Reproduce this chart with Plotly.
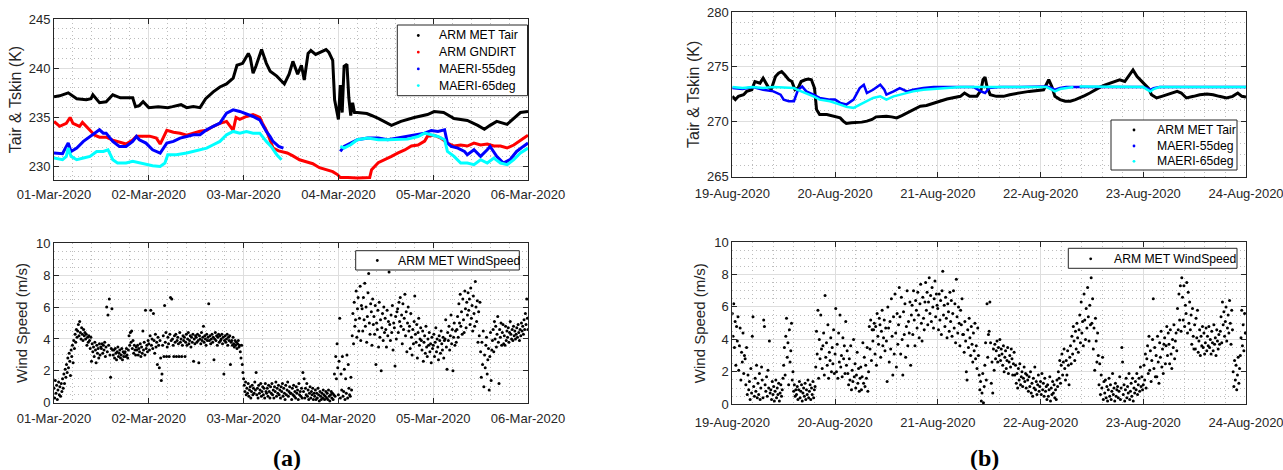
import pandas as pd
import plotly.graph_objects as go

# ---------------- DATA ----------------
# Panel (a): 01-Mar-2020 .. 06-Mar-2020, times are day offsets from 01-Mar-2020 00:00
a_tair_d = [0, 0.06, 0.15, 0.24, 0.34, 0.39, 0.41, 0.48, 0.55, 0.62, 0.7, 0.78, 0.83, 0.86, 0.9, 0.94, 1.0, 1.1, 1.2, 1.25,
            1.34, 1.4, 1.47, 1.54, 1.57, 1.6, 1.68, 1.75, 1.82, 1.89, 1.93, 1.99, 2.05, 2.07, 2.10, 2.13, 2.19, 2.24, 2.28, 2.35,
            2.43, 2.48, 2.52, 2.57, 2.61, 2.64, 2.68, 2.71, 2.76, 2.8, 2.87, 2.9, 2.94, 2.96, 2.98, 3.0, 3.02, 3.04, 3.06, 3.09,
            3.11, 3.13, 3.15, 3.17, 3.2, 3.3, 3.35, 3.42, 3.56, 3.66, 3.8, 3.94, 4.01, 4.11, 4.22, 4.36, 4.47, 4.54, 4.6, 4.67,
            4.78, 4.85, 4.92, 5.0]
a_tair = [237.1, 237.2, 237.5, 236.9, 236.8, 236.9, 237.3, 236.5, 236.6, 237.3, 237.0, 237.0, 237.0, 236.1, 236.2, 236.6,
          236.0, 236.1, 236.0, 236.1, 236.3, 236.0, 236.1, 236.0, 236.5, 236.9, 237.6, 238.1, 238.4, 239.0, 240.3, 240.5,
          241.5, 241.1, 239.5, 240.2, 241.9, 240.5, 239.7, 239.2, 238.4, 239.4, 240.7, 239.4, 240.3, 238.8, 241.5, 241.8,
          241.4, 241.6, 241.9, 241.6, 240.8, 236.8, 235.8, 234.8, 238.3, 235.5, 240.2, 240.4, 237.0, 235.2, 236.5, 235.5,
          235.5, 235.4, 235.2, 234.9, 234.2, 234.6, 235.0, 235.3, 235.6, 235.5, 234.9, 234.7, 234.2, 233.8, 234.2, 234.6,
          234.3, 234.9, 235.5, 235.6]

a_gnd_d = [0, 0.06, 0.13, 0.17, 0.2, 0.27, 0.3, 0.34, 0.37, 0.43, 0.48, 0.55, 0.62, 0.69, 0.76, 0.83, 0.87, 0.94, 1.01, 1.08,
           1.12, 1.19, 1.26, 1.33, 1.40, 1.47, 1.54, 1.61, 1.68, 1.75, 1.82, 1.89, 1.92, 1.96, 2.03, 2.10, 2.17, 2.2, 2.24, 2.28,
           2.31, 2.37, 2.46, 2.52, 2.59, 2.66, 2.73, 2.8, 2.87, 2.94, 2.99, 3.02, 3.1, 3.2, 3.33, 3.35, 3.42, 3.49, 3.56, 3.63,
           3.7, 3.77, 3.84, 3.91, 3.94, 4.01, 4.08, 4.15, 4.22, 4.29, 4.36, 4.43, 4.50, 4.57, 4.64, 4.71, 4.78, 4.85, 4.92, 5.0]
a_gnd = [234.6, 234.1, 234.4, 235.0, 234.4, 234.1, 234.5, 234.1, 233.9, 233.2, 233.0, 233.0, 232.7, 232.5, 232.3, 232.7,
         233.1, 233.1, 233.1, 232.9, 232.3, 233.7, 233.5, 233.4, 233.2, 233.4, 233.6, 233.7, 234.1, 234.4, 234.6, 233.7,
         235.0, 234.8, 235.1, 235.3, 235.0, 234.4, 233.7, 232.7, 231.9, 231.6, 231.4, 231.1, 230.7, 230.5, 230.3, 229.9,
         229.7, 229.5, 229.2, 228.9, 228.9, 228.85, 228.9, 229.7, 230.4, 230.7, 231.05, 231.4, 231.7, 232.1, 232.2, 232.6,
         233.1, 233.2, 232.9, 232.4, 232.1, 232.2, 232.1, 232.4, 232.2, 232.3, 232.1, 232.1, 231.9, 232.2, 232.7, 233.2]

a_m55_d = [0, 0.09, 0.12, 0.15, 0.18, 0.24, 0.31, 0.38, 0.45, 0.48, 0.52, 0.55, 0.62, 0.69, 0.76, 0.83, 0.87, 0.9, 0.97, 1.04,
           1.12, 1.19, 1.26, 1.33, 1.40, 1.47, 1.54, 1.61, 1.68, 1.75, 1.82, 1.89, 1.96, 2.03, 2.10, 2.17, 2.2, 2.24, 2.28, 2.31,
           2.37, 2.42, 2.7, 3.02, 3.06, 3.13, 3.2, 3.31, 3.42, 3.52, 3.63, 3.73, 3.84, 3.91, 3.98, 4.05, 4.12, 4.15, 4.19, 4.26,
           4.33, 4.36, 4.43, 4.5, 4.57, 4.6, 4.67, 4.74, 4.81, 4.88, 4.95, 5.0]
a_m55 = [231.39, 231.32, 231.89, 232.40, 231.55, 231.89, 232.57, 233.07, 233.58, 233.75, 233.41, 233.41, 232.57, 232.06,
         232.06, 232.57, 233.07, 232.74, 232.40, 231.72, 231.39, 232.40, 232.57, 232.91, 233.07, 233.24, 233.24, 233.75,
         234.09, 234.43, 235.44, 235.78, 235.61, 235.37, 235.10, 234.76, 234.26, 233.58, 233.07, 232.57, 232.06, 231.89,
         None,
         231.55, 232.06, 232.40, 232.74, 232.91, 232.91, 232.74, 232.91, 233.07, 233.24, 233.41, 233.68, 233.58, 233.75,
         232.40, 232.06, 231.89, 231.55, 231.22, 231.72, 231.05, 231.72, 232.06, 231.05, 230.37, 230.71, 231.55, 232.06,
         232.40]

a_m65_d = [0, 0.09, 0.13, 0.15, 0.18, 0.24, 0.31, 0.38, 0.45, 0.52, 0.57, 0.62, 0.67, 0.76, 0.83, 0.9, 0.97, 1.04, 1.12, 1.17,
           1.2, 1.29, 1.40, 1.47, 1.54, 1.61, 1.68, 1.75, 1.82, 1.89, 1.96, 2.03, 2.10, 2.17, 2.24, 2.29, 2.35, 2.4, 2.7,
           3.02, 3.06, 3.13, 3.2, 3.31, 3.42, 3.52, 3.63, 3.73, 3.84, 3.91, 3.98, 4.05, 4.12, 4.15, 4.22, 4.29, 4.36, 4.43, 4.5,
           4.57, 4.64, 4.71, 4.78, 4.85, 4.92, 5.0]
a_m65 = [230.88, 230.71, 231.05, 231.89, 231.05, 230.71, 230.88, 231.05, 231.55, 231.55, 231.72, 230.71, 230.37, 230.37,
         230.54, 230.37, 230.20, 230.10, 230.03, 230.37, 231.22, 231.22, 231.39, 231.55, 231.72, 231.89, 232.23, 232.57,
         233.24, 233.58, 233.41, 233.58, 233.41, 233.41, 232.57, 232.06, 231.22, 230.71,
         None,
         232.06, 231.89, 232.23, 232.74, 232.91, 232.74, 232.74, 232.74, 232.80, 233.07, 233.41, 233.24, 233.07, 232.74,
         231.55, 231.05, 230.37, 230.37, 230.20, 230.71, 230.37, 230.88, 230.37, 230.20, 230.71, 231.39, 231.89]

# wind speed (m/s), one value per 10 min from 01-Mar-2020 00:00 (18 values = 3 h per row)
a_wind = [
    0.9, 0.3, 1.4, 0.6, 1.1, 0.2, 0.8, 1.3, 0.5, 1.0, 0.4, 1.2, 0.7, 1.5, 0.9, 1.8, 1.2, 2.1,
    1.6, 2.4, 1.9, 2.8, 2.2, 3.1, 2.6, 1.7, 3.3, 2.9, 3.6, 2.5, 3.9, 3.4, 4.3, 3.8, 4.6, 4.1,
    4.5, 4.9, 4.2, 5.1, 4.4, 4.0, 4.7, 4.3, 3.9, 4.6, 4.2, 4.4, 4.0, 4.3, 3.6, 4.1, 3.8, 4.2,
    3.9, 3.4, 4.1, 2.6, 3.7, 3.2, 3.5, 2.9, 3.8, 3.3, 2.5, 3.6, 3.1, 3.4, 2.8, 3.7, 3.0, 3.5,
    3.4, 3.7, 3.1, 3.6, 3.3, 3.8, 2.9, 3.5, 6.0, 3.2, 5.5, 3.6, 6.5, 3.0, 1.6, 3.4, 5.9, 3.3,
    3.0, 3.3, 2.8, 3.4, 3.1, 2.7, 3.2, 3.5, 2.9, 3.1, 3.3, 2.8, 3.0, 3.4, 2.7, 3.2, 2.9, 3.1,
    3.2, 2.9, 3.4, 3.0, 2.8, 3.3, 4.2, 3.6, 4.4, 3.8, 4.5, 3.4, 3.9, 3.1, 3.6, 3.3, 3.0, 3.5,
    3.3, 3.6, 3.0, 3.4, 3.2, 3.7, 2.9, 3.5, 3.1, 4.5, 3.3, 3.8, 3.0, 5.8, 3.4, 3.6, 3.2, 3.9,
    3.7, 3.3, 4.2, 5.8, 3.6, 4.0, 3.4, 5.6, 3.9, 3.1, 4.3, 3.5, 3.8, 2.4, 4.1, 3.6, 2.2, 3.9,
    2.8, 1.4, 1.8, 3.6, 4.2, 2.9, 6.1, 3.8, 4.4, 2.9, 3.5, 4.1, 3.7, 2.9, 4.3, 6.6, 3.9, 6.5,
    4.0, 3.6, 2.9, 4.2, 3.8, 4.3, 2.9, 3.9, 4.1, 3.7, 2.9, 4.4, 3.8, 4.0, 2.9, 3.6, 4.2, 3.9,
    4.1, 2.9, 3.8, 4.3, 3.6, 4.0, 4.4, 3.7, 3.9, 4.2, 3.5, 4.1, 3.8, 4.3, 2.6, 4.0, 3.7, 4.2,
    4.1, 3.8, 4.3, 3.9, 2.5, 4.2, 4.0, 3.7, 4.4, 3.9, 4.1, 4.8, 3.8, 4.2, 4.0, 3.6, 4.3, 3.9,
    4.1, 6.2, 3.9, 4.2, 3.7, 4.0, 4.3, 3.8, 4.1, 2.7, 4.0, 4.4, 3.9, 4.2, 3.6, 4.1, 4.3, 3.8,
    4.2, 3.9, 4.0, 4.3, 3.7, 4.1, 1.8, 3.9, 4.2, 3.8, 4.0, 4.3, 3.6, 4.1, 3.9, 4.2, 2.4, 3.8,
    3.9, 3.6, 4.1, 3.7, 3.5, 3.9, 3.6, 3.8, 3.4, 3.7, 3.9, 3.5, 3.6, 3.2, 2.8, 3.6, 2.4, 1.9,
    1.5, 1.1, 0.7, 1.3, 0.5, 0.9, 0.6, 1.2, 0.4, 0.8, 1.0, 0.3, 0.7, 1.1, 0.5, 0.9, 0.6, 1.3,
    0.8, 1.9, 0.5, 0.9, 0.3, 1.1, 0.6, 0.8, 1.2, 0.4, 0.7, 1.0, 0.5, 0.9, 0.3, 1.2, 0.7, 0.6,
    0.9, 0.4, 1.1, 0.7, 0.3, 1.0, 0.6, 1.2, 0.5, 0.8, 0.3, 1.0, 0.7, 1.3, 0.4, 0.9, 0.6, 1.1,
    0.5, 0.8, 0.3, 1.0, 0.7, 1.2, 0.4, 0.9, 0.6, 0.2, 1.1, 0.5, 0.8, 1.3, 0.4, 0.7, 1.0, 0.6,
    0.6, 0.2, 0.9, 0.5, 1.1, 0.4, 0.7, 0.3, 1.0, 0.6, 0.8, 0.2, 1.2, 0.5, 0.7, 0.4, 0.9, 0.3,
    1.9, 0.7, 1.5, 0.3, 0.9, 0.5, 1.2, 0.4, 0.8, 0.2, 0.6, 1.0, 0.3, 0.7, 0.5, 0.9, 0.2, 0.6,
    0.4, 0.8, 0.2, 0.6, 0.3, 0.9, 0.5, 0.1, 0.7, 0.4, 0.2, 0.6, 0.3, 0.8, 0.5, 0.2, 0.4, 0.7,
    0.3, 0.6, 0.2, 0.8, 0.4, 0.1, 0.5, 0.7, 0.3, 0.6, 0.2, 0.5, 1.8, 0.4, 2.9, 1.5, 3.7, 2.2,
    0.5, 2.6, 5.3, 0.3, 1.8, 0.8, 2.9, 0.4, 0.7, 2.1, 0.2, 1.5, 0.6, 3.0, 0.3, 2.4, 0.9, 0.5,
    0.4, 1.6, 0.8, 4.2, 5.6, 3.7, 6.3, 4.8, 5.2, 7.0, 4.1, 5.9, 6.6, 4.5, 5.3, 7.3, 3.9, 6.1,
    5.9, 4.5, 6.6, 5.2, 7.5, 4.8, 6.0, 3.8, 5.4, 6.9, 8.1, 5.0, 4.3, 6.2, 5.7, 3.6, 6.5, 4.9,
    5.4, 4.3, 6.1, 2.4, 5.0, 4.6, 5.8, 3.5, 6.3, 4.1, 5.2, 2.0, 4.7, 5.6, 3.9, 6.0, 4.4, 5.3,
    4.6, 3.5, 5.8, 4.2, 5.1, 8.2, 4.9, 3.9, 5.5, 4.4, 6.1, 3.3, 5.0, 4.7, 2.3, 5.4, 4.0, 5.7,
    5.9, 4.4, 6.3, 5.1, 6.6, 4.8, 5.5, 3.7, 6.2, 4.6, 5.3, 6.8, 4.2, 5.7, 3.2, 5.0, 6.0, 4.5,
    4.8, 3.4, 5.6, 4.1, 3.0, 4.6, 3.7, 5.1, 6.7, 4.3, 3.8, 4.9, 2.8, 4.4, 5.3, 3.6, 4.0, 4.7,
    3.9, 3.3, 4.5, 2.6, 3.8, 4.2, 3.1, 4.8, 3.5, 2.9, 4.0, 3.6, 4.4, 3.2, 3.7, 2.5, 4.1, 3.4,
    3.6, 4.3, 2.9, 3.8, 4.7, 3.2, 4.0, 3.5, 2.7, 4.2, 3.9, 3.1, 4.5, 3.7, 3.3, 4.1, 2.8, 3.9,
    4.0, 5.2, 3.5, 2.1, 4.4, 3.9, 4.8, 3.3, 4.2, 5.5, 3.7, 4.6, 2.0, 4.1, 5.0, 3.6, 4.5, 3.8,
    4.6, 5.4, 4.1, 6.2, 5.0, 6.8, 4.8, 5.7, 4.3, 6.5, 5.2, 4.4, 7.0, 5.9, 4.7, 6.3, 5.5, 6.9,
    5.8, 6.5, 4.9, 7.2, 5.3, 6.1, 4.5, 6.7, 5.6, 4.8, 7.6, 6.0, 5.1, 6.4, 3.8, 5.7, 4.2, 6.3,
    3.2, 1.6, 3.8, 2.4, 4.5, 1.0, 3.0, 2.2, 3.6, 4.1, 1.8, 2.7, 3.4, 0.8, 2.9, 4.4, 1.4, 3.3,
    3.9, 4.6, 3.2, 5.1, 4.0, 4.8, 3.5, 4.3, 5.4, 3.8, 1.2, 4.6, 4.1, 5.0, 3.6, 4.4, 4.9, 3.7,
    4.2, 3.6, 4.8, 3.9, 4.5, 4.1, 4.7, 3.8, 4.4, 5.1, 4.3, 4.0, 4.6, 3.9, 4.8, 4.2, 4.5, 4.0,
    4.3, 4.7, 4.1, 4.9, 4.4, 3.9, 4.6, 4.2, 5.0, 4.5, 4.8, 4.3, 5.2, 4.6, 5.6, 4.9, 6.5, 5.3,
    4.6]

# Panel (b): 19-Aug-2020 .. 24-Aug-2020, day offsets from 19-Aug-2020 00:00
b_tair_d = [0, 0.03, 0.06, 0.11, 0.14, 0.19, 0.22, 0.27, 0.3, 0.35, 0.38, 0.42, 0.45, 0.48, 0.51, 0.55, 0.58, 0.61, 0.64, 0.67,
            0.71, 0.74, 0.77, 0.80, 0.82, 0.85, 0.92, 0.98, 1.05, 1.08, 1.11, 1.16, 1.21, 1.26, 1.31, 1.36, 1.4, 1.45, 1.5, 1.55,
            1.6, 1.65, 1.70, 1.76, 1.83, 1.89, 1.96, 2.02, 2.09, 2.15, 2.22, 2.26, 2.31, 2.38, 2.42, 2.44, 2.46, 2.48, 2.51, 2.57,
            2.64, 2.7, 2.77, 2.83, 2.89, 2.96, 3.03, 3.08, 3.11, 3.14, 3.19, 3.24, 3.29, 3.34, 3.38, 3.43, 3.48, 3.53, 3.58, 3.63,
            3.68, 3.72, 3.77, 3.82, 3.87, 3.90, 3.94, 3.97, 4.0, 4.05, 4.08, 4.13, 4.18, 4.23, 4.28, 4.33, 4.37, 4.42, 4.49, 4.55,
            4.62, 4.68, 4.74, 4.81, 4.87, 4.92, 4.96, 5.0]
b_tair = [272.32, 272.02, 272.32, 272.47, 272.77, 272.92, 273.67, 273.52, 273.98, 273.16, 272.98, 274.13, 274.43, 274.58,
          274.28, 273.83, 273.67, 272.92, 273.07, 273.67, 273.83, 273.89, 273.83, 273.07, 271.11, 270.66, 270.66, 270.51,
          270.36, 270.06, 269.85, 269.91, 269.91, 269.97, 270.06, 270.21, 270.45, 270.51, 270.51, 270.45, 270.36, 270.57,
          270.81, 271.11, 271.42, 271.48, 271.66, 271.87, 272.08, 272.17, 272.32, 272.62, 272.32, 272.32, 272.86, 273.83,
          274.07, 273.16, 272.47, 272.32, 272.32, 272.47, 272.62, 272.68, 272.77, 272.86, 272.92, 273.83, 273.22, 272.32,
          272.02, 271.87, 271.87, 272.02, 272.17, 272.38, 272.62, 272.92, 273.16, 273.37, 273.52, 273.67, 273.83, 273.67,
          274.28, 274.73, 274.13, 273.83, 273.52, 273.07, 272.47, 272.17, 272.32, 272.47, 272.68, 272.77, 272.62, 272.17,
          272.32, 272.47, 272.53, 272.47, 272.32, 272.17, 272.32, 272.62, 272.32, 272.26]

b_m55_d = [0, 0.1, 0.2, 0.3, 0.4, 0.47, 0.5, 0.55, 0.6, 0.64, 0.68, 0.72, 0.79, 0.85, 0.95, 1.0, 1.05, 1.11, 1.18, 1.24, 1.28,
           1.31, 1.37, 1.44, 1.48, 1.5, 1.57, 1.63, 1.7, 1.76, 1.86, 1.96, 2.09, 2.22, 2.35, 2.42, 2.46, 2.5, 2.6, 2.8, 3.0,
           3.06, 3.11, 3.14, 3.19, 3.25, 3.32, 3.38, 3.6, 3.8, 4.0, 4.03, 4.07, 4.1, 4.16, 4.4, 4.6, 4.8, 5.0]
b_m55 = [273.07, 272.98, 273.16, 272.92, 272.77, 272.47, 272.02, 271.87, 271.87, 272.92, 273.22, 272.77, 272.47, 272.17,
         272.02, 272.02, 271.72, 271.57, 272.02, 273.07, 273.37, 272.62, 272.92, 273.37, 272.92, 272.47, 272.77, 273.07,
         272.77, 272.92, 273.07, 273.16, 273.16, 273.16, 273.16, 272.77, 272.62, 273.07, 273.16, 273.16, 273.16, 273.22,
         273.07, 272.92, 273.07, 273.16, 273.16, 273.16, 273.16, 273.16, 273.16, 273.07, 272.92, 273.07, 273.16, 273.16,
         273.16, 273.16, 273.16]

b_m65_d = [0, 0.1, 0.2, 0.3, 0.4, 0.5, 0.6, 0.63, 0.72, 0.79, 0.85, 0.95, 1.05, 1.11, 1.18, 1.24, 1.31, 1.37, 1.44, 1.5,
           1.57, 1.63, 1.7, 1.76, 1.86, 1.96, 2.09, 2.22, 2.35, 2.48, 2.6, 2.8, 3.0, 3.06, 3.11, 3.14, 3.19, 3.25, 3.32,
           3.35, 3.38, 3.6, 3.8, 4.0, 4.03, 4.07, 4.1, 4.16, 4.4, 4.6, 4.8, 5.0]
b_m65 = [273.16, 273.07, 273.16, 273.07, 273.16, 273.13, 273.07, 272.92, 272.62, 272.32, 272.02, 271.87, 271.57, 271.36,
         271.27, 271.57, 271.87, 272.17, 272.32, 272.02, 272.32, 272.47, 272.62, 272.77, 272.92, 272.98, 273.07, 273.16,
         273.16, 273.16, 273.16, 273.16, 273.16, 273.16, 272.92, 272.77, 272.98, 273.07, 273.16, None, 273.22, 273.22,
         273.19, 273.16, 272.98, 272.77, 272.98, 273.16, 273.16, 273.13, 273.16, 273.16]

# wind speed (m/s), one value per 10 min from 19-Aug-2020 00:00 (18 values = 3 h per row)
b_wind = [
    5.6, 4.2, 6.2, 3.5, 5.1, 2.4, 4.8, 3.9, 5.4, 2.1, 3.6, 4.7, 1.5, 3.2, 2.6, 4.4, 1.9, 3.0,
    2.8, 1.2, 3.5, 0.6, 1.8, 0.9, 1.4, 0.3, 2.2, 0.7, 4.2, 5.4, 1.1, 0.5, 1.6, 0.8, 2.4, 0.4,
    1.3, 0.6, 1.9, 0.3, 1.0, 2.3, 1.5, 0.4, 5.2, 4.8, 1.2, 0.8, 1.7, 0.5, 2.1, 1.0, 3.9, 0.7,
    0.9, 0.3, 1.4, 0.6, 1.1, 0.2, 0.8, 1.5, 0.4, 1.0, 0.6, 1.3, 0.2, 0.7, 1.2, 0.5, 0.9, 1.6,
    2.4, 3.5, 1.8, 4.2, 5.3, 2.9, 3.8, 1.2, 4.6, 2.6, 3.3, 5.0, 1.5, 2.0, 0.8, 1.2, 0.5, 0.9,
    0.6, 1.1, 0.3, 0.9, 1.4, 0.4, 0.8, 1.2, 0.2, 0.7, 1.0, 0.5, 1.3, 0.3, 0.9, 0.6, 1.5, 0.4,
    0.8, 1.2, 0.3, 1.0, 0.6, 1.4, 0.4, 0.9, 1.1, 2.3, 4.5, 3.1, 5.8, 1.6, 4.0, 2.8, 5.5, 3.4,
    2.2, 3.6, 4.4, 1.8, 6.7, 2.9, 3.8, 2.4, 4.9, 1.6, 3.2, 2.7, 4.1, 2.0, 3.5, 2.5, 4.6, 1.9,
    3.1, 5.9, 2.0, 3.7, 1.6, 4.4, 2.6, 5.5, 2.3, 3.0, 1.7, 4.1, 2.8, 3.6, 1.9, 5.1, 2.4, 3.3,
    1.9, 1.2, 2.8, 1.5, 3.6, 0.9, 2.1, 1.4, 4.0, 1.7, 2.5, 1.0, 1.8, 3.2, 1.3, 2.2, 0.8, 1.6,
    2.3, 0.9, 1.7, 3.8, 1.3, 2.9, 1.1, 2.4, 1.6, 3.5, 0.8, 2.0, 4.8, 3.4, 5.2, 2.7, 4.6, 3.9,
    4.6, 5.0, 3.1, 4.8, 2.4, 5.6, 4.2, 3.7, 5.3, 4.9, 2.9, 4.5, 5.8, 3.6, 4.1, 5.2, 3.3, 4.7,
    3.9, 1.4, 6.0, 4.7, 2.6, 5.1, 3.4, 6.5, 4.2, 1.8, 5.4, 3.1, 6.8, 4.4, 2.3, 5.6, 3.7, 4.9,
    7.2, 5.4, 3.1, 6.6, 4.0, 1.8, 5.7, 4.3, 6.2, 2.9, 4.8, 7.0, 3.6, 5.1, 4.4, 6.3, 2.4, 5.5,
    6.1, 4.3, 7.0, 5.2, 3.6, 6.4, 5.8, 4.7, 6.9, 5.5, 4.1, 6.2, 7.4, 5.0, 3.9, 6.6, 5.3, 4.6,
    6.3, 7.5, 5.8, 6.9, 4.9, 6.3, 7.8, 5.6, 6.7, 5.1, 7.2, 6.0, 4.7, 6.5, 7.6, 5.4, 6.8, 6.1,
    5.9, 4.6, 6.8, 5.2, 6.4, 4.3, 7.0, 8.2, 5.5, 6.1, 4.8, 6.6, 5.3, 4.1, 6.2, 5.7, 4.5, 6.9,
    5.1, 6.4, 4.2, 5.6, 7.0, 4.7, 6.2, 3.8, 7.7, 5.4, 4.4, 6.0, 5.0, 3.6, 5.8, 4.9, 6.5, 4.3,
    4.3, 3.2, 5.1, 3.9, 2.0, 1.5, 4.6, 3.5, 5.3, 4.1, 3.0, 4.8, 3.7, 2.6, 4.4, 3.3, 5.0, 2.8,
    3.6, 2.2, 4.7, 3.0, 1.8, 0.9, 1.4, 0.2, 0.7, 1.9, 0.1, 1.1, 2.4, 3.8, 1.5, 6.2, 2.9, 4.3,
    4.5, 6.3, 3.8, 1.3, 2.6, 0.7, 3.4, 2.1, 3.7, 2.8, 3.3, 3.9, 2.6, 3.5, 3.0, 4.0, 2.7, 3.4,
    3.1, 2.4, 3.6, 2.0, 2.9, 3.3, 2.2, 2.7, 3.5, 1.9, 2.6, 3.0, 2.3, 3.4, 2.8, 1.8, 2.5, 3.2,
    1.8, 2.4, 1.3, 1.9, 1.0, 2.2, 1.5, 2.5, 1.2, 1.7, 2.0, 1.1, 1.6, 2.3, 1.4, 1.9, 1.0, 1.8,
    1.5, 0.8, 1.7, 1.1, 2.0, 0.7, 1.3, 0.5, 1.6, 1.0, 2.3, 0.9, 1.4, 0.6, 1.2, 1.8, 0.8, 1.1,
    1.4, 0.6, 1.9, 0.9, 1.3, 0.5, 1.6, 0.8, 1.1, 0.3, 1.2, 0.5, 0.9, 1.7, 0.2, 1.0, 0.6, 1.4,
    0.7, 1.2, 0.4, 0.9, 0.3, 1.5, 1.1, 2.0, 1.6, 2.7, 1.3, 2.4, 3.1, 1.8, 2.6, 3.4, 2.2, 1.5,
    2.7, 1.8, 3.3, 2.4, 1.2, 2.9, 3.6, 2.5, 4.2, 3.1, 4.8, 3.9, 2.7, 4.5, 3.4, 5.0, 4.1, 3.2,
    4.6, 5.5, 3.8, 6.3, 4.4, 5.1, 3.6, 6.8, 5.2, 4.0, 5.9, 4.7, 7.2, 5.4, 3.9, 6.1, 4.9, 7.8,
    5.0, 6.5, 3.4, 4.7, 2.1, 5.3, 3.9, 2.6, 4.4, 3.0, 1.2, 2.5, 0.6, 1.8, 1.0, 2.9, 0.3, 1.4,
    0.7, 1.5, 0.4, 1.1, 0.2, 0.9, 1.6, 0.5, 1.2, 0.3, 0.8, 1.9, 0.6, 1.0, 0.2, 1.3, 0.5, 0.9,
    1.1, 0.4, 0.8, 1.7, 0.3, 1.0, 3.5, 2.6, 0.6, 1.2, 0.2, 0.9, 1.6, 0.4, 1.1, 0.7, 1.9, 0.3,
    0.8, 1.3, 0.5, 1.6, 0.2, 1.0, 0.7, 1.4, 0.9, 1.9, 0.6, 1.2, 1.6, 0.8, 2.3, 1.1, 1.7, 0.9,
    1.2, 2.4, 1.5, 3.1, 1.0, 2.8, 3.6, 1.9, 4.2, 2.1, 3.3, 1.4, 2.7, 4.0, 6.5, 2.2, 3.5, 1.7,
    3.0, 1.7, 4.2, 2.6, 1.3, 3.8, 2.9, 4.5, 2.3, 3.4, 1.9, 3.7, 4.1, 2.5, 3.6, 4.8, 3.0, 4.4,
    3.7, 2.5, 4.6, 3.1, 2.2, 4.0, 3.5, 4.9, 2.8, 3.9, 4.4, 3.3, 5.9, 4.6, 6.8, 5.2, 7.3, 4.5,
    7.8, 6.6, 5.2, 7.3, 4.8, 6.1, 5.6, 7.5, 4.4, 6.9, 5.0, 6.3, 4.6, 5.5, 3.7, 5.9, 4.2, 3.4,
    4.9, 3.4, 5.3, 4.1, 5.8, 3.2, 3.9, 4.6, 3.0, 4.2, 3.6, 4.8, 3.5, 4.4, 3.1, 3.8, 4.7, 3.3,
    4.2, 3.6, 4.8, 3.5, 4.0, 3.1, 4.5, 3.8, 3.3, 4.9, 3.7, 4.1, 3.0, 4.6, 3.9, 3.4, 4.3, 3.7,
    4.5, 5.4, 3.8, 6.3, 4.9, 5.7, 4.2, 5.1, 6.0, 3.9, 4.7, 5.5, 4.4, 6.4, 5.0, 3.7, 5.8, 4.6,
    2.0, 1.1, 2.7, 1.5, 2.4, 0.9, 1.8, 2.9, 1.3, 2.2, 3.0, 4.1, 5.8, 3.6, 4.9, 3.3, 5.6, 4.4,
    4.4]

start_a, end_a = "2020-03-01", "2020-03-06"
start_b, end_b = "2020-08-19", "2020-08-24"
wind_step_min = 10

names_a = ["ARM MET Tair", "ARM GNDIRT", "MAERI-55deg", "MAERI-65deg"]
names_b = ["ARM MET Tair", "MAERI-55deg", "MAERI-65deg"]
wind_name = "ARM MET WindSpeed"

# ---------------- STYLE ----------------
W, H = 1283, 470
FONT = "Liberation Sans, Arial, Helvetica, sans-serif"
AX = "#262626"
GRID = "#dedede"
MGRID = "#bdbdbd"
COL = {"ARM MET Tair": "#000000", "ARM GNDIRT": "#ff0000", "MAERI-55deg": "#0000ff", "MAERI-65deg": "#00ffff"}


def px(xp):
    return xp / W


def py(yp):
    return 1 - yp / H


def to_time(start, d):
    base = pd.Timestamp(start)
    return [base + pd.Timedelta(days=v) for v in d]


def wind_times(start, n):
    base = pd.Timestamp(start)
    return [base + pd.Timedelta(minutes=wind_step_min * i) for i in range(n)]


fig = go.Figure()

series_a = [(a_tair_d, a_tair, "ARM MET Tair", 3), (a_gnd_d, a_gnd, "ARM GNDIRT", 3),
            (a_m55_d, a_m55, "MAERI-55deg", 3), (a_m65_d, a_m65, "MAERI-65deg", 3)]
for d, v, nm, w in series_a:
    fig.add_trace(go.Scatter(x=to_time(start_a, d), y=v, mode="lines", name=nm,
                             line=dict(color=COL[nm], width=w), xaxis="x", yaxis="y", showlegend=False))

fig.add_trace(go.Scatter(x=wind_times(start_a, len(a_wind)), y=a_wind, mode="markers", name=wind_name,
                         marker=dict(color="black", size=3), xaxis="x2", yaxis="y2", showlegend=False))

series_b = [(b_tair_d, b_tair, "ARM MET Tair", 3), (b_m55_d, b_m55, "MAERI-55deg", 2.5),
            (b_m65_d, b_m65, "MAERI-65deg", 2.5)]
for d, v, nm, w in series_b:
    fig.add_trace(go.Scatter(x=to_time(start_b, d), y=v, mode="lines", name=nm,
                             line=dict(color=COL[nm], width=w), xaxis="x3", yaxis="y3", showlegend=False))

fig.add_trace(go.Scatter(x=wind_times(start_b, len(b_wind)), y=b_wind, mode="markers", name=wind_name,
                         marker=dict(color="black", size=3), xaxis="x4", yaxis="y4", showlegend=False))


def xax(rng, dom, anchor, standoff):
    return dict(type="date", range=rng, domain=dom, anchor=anchor, tickformat="%d-%b-%Y", dtick=86400000,
                ticks="inside", ticklen=5, tickcolor=AX, showline=True, linecolor=AX, linewidth=1,
                mirror="ticks", showgrid=True, gridcolor=GRID, gridwidth=1, zeroline=False,
                tickfont=dict(family=FONT, size=13, color=AX), automargin=False,
                ticklabelstandoff=standoff, ticklabeloverflow="allow",
                minor=dict(dtick=17280000, showgrid=True, gridcolor=MGRID, griddash="1px,3px", ticks=""))


def yax(rng, dom, anchor, dtick, mdtick, title, tsize, standoff):
    return dict(range=rng, domain=dom, anchor=anchor, dtick=dtick, ticks="inside", ticklen=5, tickcolor=AX,
                showline=True, linecolor=AX, linewidth=1, mirror="ticks", showgrid=True, gridcolor=GRID,
                gridwidth=1, zeroline=False, tickfont=dict(family=FONT, size=13, color=AX), automargin=False,
                title=dict(text=title, font=dict(family=FONT, size=tsize, color=AX), standoff=standoff),
                minor=dict(dtick=mdtick, showgrid=True, gridcolor=MGRID, griddash="1px,3px", ticks=""))


xa_dom = [px(54), px(528)]
xb_dom = [px(732.3), px(1246)]
fig.update_layout(
    width=W, height=H, margin=dict(l=0, r=0, t=0, b=0),
    paper_bgcolor="white", plot_bgcolor="white", showlegend=False,
    xaxis=xax([start_a, end_a], xa_dom, "y", 2),
    yaxis=yax([228.65, 245], [py(180), py(19)], "x", 5, 1, "Tair & Tskin (K)", 16, 3),
    xaxis2=xax([start_a, end_a], xa_dom, "y2", 4),
    yaxis2=yax([0, 10], [py(402.7), py(243.3)], "x2", 2, 0.5, "Wind Speed (m/s)", 15, 4.5),
    xaxis3=xax([start_b, end_b], xb_dom, "y3", 5),
    yaxis3=yax([265, 280], [py(176.7), py(12)], "x3", 5, 1, "Tair & Tskin (K)", 16, 3),
    xaxis4=xax([start_b, end_b], xb_dom, "y4", 6),
    yaxis4=yax([0, 10], [py(404.3), py(242)], "x4", 2, 0.5, "Wind Speed (m/s)", 15, 4.5),
)

# ---------------- legends (drawn as boxes with text) ----------------
shapes = []
annotations = []


def legend_box(x0, x1, y0, y1, mark_x, text_x, entries):
    shapes.append(dict(type="rect", xref="paper", yref="paper", x0=px(x0), x1=px(x1), y0=py(y1), y1=py(y0),
                       line=dict(color=AX, width=1), fillcolor="white", layer="above"))
    for name, yc in entries:
        r = 1.4
        shapes.append(dict(type="circle", xref="paper", yref="paper", x0=px(mark_x - r), x1=px(mark_x + r),
                           y0=py(yc + r), y1=py(yc - r), line=dict(color=COL.get(name, "#000000"), width=0),
                           fillcolor=COL.get(name, "#000000"), layer="above"))
        annotations.append(dict(xref="paper", yref="paper", x=px(text_x), y=py(yc), text=name, showarrow=False,
                                xanchor="left", yanchor="middle", font=dict(family=FONT, size=12.2, color="black")))


legend_box(397.3, 527.5, 25, 95.7, 418.3, 436.5,
           [(names_a[0], 35.5), (names_a[1], 52.2), (names_a[2], 68.9), (names_a[3], 85.6)])
legend_box(355.7, 519.3, 250.7, 270, 377.3, 395.5, [(wind_name, 260.5)])
legend_box(1111, 1237, 120, 170, 1134, 1154.5,
           [(names_b[0], 130), (names_b[1], 146), (names_b[2], 161.3)])
legend_box(1068.3, 1237, 248.3, 268.3, 1090.7, 1112.2, [(wind_name, 258.8)])

annotations.append(dict(xref="paper", yref="paper", x=px(287), y=py(458), text="<b>(a)</b>", showarrow=False,
                        xanchor="center", yanchor="middle",
                        font=dict(family="Liberation Serif, DejaVu Serif, serif", size=24, color="black")))
annotations.append(dict(xref="paper", yref="paper", x=px(984), y=py(458), text="<b>(b)</b>", showarrow=False,
                        xanchor="center", yanchor="middle",
                        font=dict(family="Liberation Serif, DejaVu Serif, serif", size=24, color="black")))

fig.update_layout(shapes=shapes, annotations=annotations)
fig.write_html("out.html")
